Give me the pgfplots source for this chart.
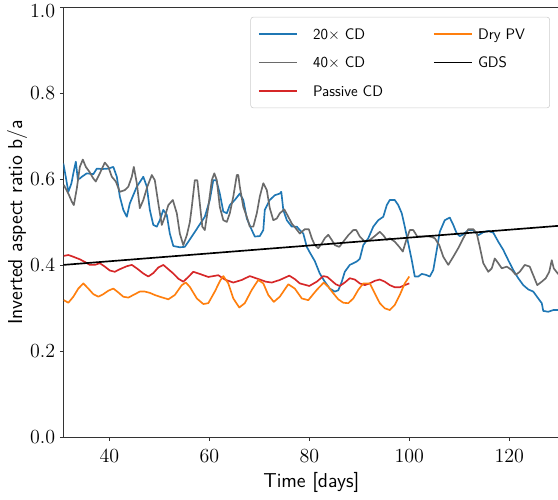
\documentclass[border=0pt]{standalone}
\usepackage{fontspec}
\usepackage{pgfplots}
\pgfplotsset{compat=1.18}
\definecolor{c20}{HTML}{1F77B4}
\definecolor{c40}{HTML}{6A6A6A}
\definecolor{cpas}{HTML}{D62728}
\definecolor{cdry}{HTML}{FF7F0E}
\begin{document}
\begin{tikzpicture}
\begin{axis}[
  at={(0,0)}, anchor=south west,
  scale only axis, width=357.1pt, height=309.6pt,
  xmin=30.8, xmax=130, ymin=0, ymax=1,
  xtick={40,60,80,100,120}, ytick={0,0.2,0.4,0.6,0.8},
  extra y ticks={1.0},
  extra y tick style={yticklabel style={yshift=-2.6pt}},
  yticklabel style={/pgf/number format/fixed,/pgf/number format/fixed zerofill,/pgf/number format/precision=1},
  tick align=outside, tick pos=left, major tick length=2.4pt,
  axis line style={black!80, line width=0.6pt},
  every tick/.style={black!80, line width=0.6pt},
  tick label style={font=\fontsize{14.4}{17}\selectfont},
  xticklabel style={yshift=-3pt},
  every axis x label/.style={at={(axis description cs:0.5,-0.117)}, anchor=base},
  every axis y label/.style={at={(axis description cs:-0.0833,0.5)}, rotate=90, anchor=base},
  label style={font=\sffamily\fontsize{14.5}{17}\selectfont},
  xlabel={Time [days]}, ylabel={Inverted aspect ratio b/a},
  legend columns=2,
  legend cell align=left,
  legend style={at={(1,1)}, anchor=north east, xshift=-6.7pt, yshift=-6.8pt,
    draw=black!20, rounded corners=2pt, fill=white,
    inner xsep=5.3pt, inner ysep=7.2pt, row sep=10.2pt, column sep=0pt,
    nodes={inner sep=0pt, text height=9pt, text depth=1.2pt},
    font=\sffamily\fontsize{11}{13.5}\selectfont},
  legend image code/.code={\draw[#1, line width=1.2pt] (0pt,0pt) -- (27.6pt,0pt);},
  every axis plot/.append style={line width=1.2pt, line join=round},
]
\addplot[c20, forget plot] coordinates {
(30.8,0.637) (31.3,0.605) (31.8,0.571) (32.4,0.590) (33.0,0.625) (33.3,0.641) (33.7,0.600) (34.1,0.602) (34.5,0.606) (35.5,0.614) (36.8,0.612) (37.5,0.625) (38.5,0.624) (39.8,0.625) (40.8,0.629) (41.5,0.606) (42.1,0.560) (42.8,0.529) (43.5,0.513) (44.1,0.544) (45.5,0.583) (46.8,0.606) (47.5,0.583) (48.1,0.529) (48.8,0.494) (49.5,0.490) (50.1,0.505) (50.8,0.529) (51.5,0.517) (52.1,0.474) (52.8,0.445) (54.1,0.442) (55.1,0.443) (56.5,0.467) (57.8,0.490) (59.1,0.513) (60.1,0.552) (60.8,0.598) (61.4,0.598) (62.1,0.567) (62.8,0.525) (63.5,0.521) (64.1,0.540) (65.1,0.552) (66.1,0.567) (66.8,0.552) (67.5,0.509) (68.5,0.482) (69.1,0.467) (70.1,0.468) (70.8,0.482) (71.1,0.529) (72.1,0.552) (73.1,0.563) (74.1,0.567) (74.4,0.571) (74.8,0.529) (75.5,0.505) (76.5,0.490) (77.5,0.490) (78.1,0.482) (78.8,0.474) (79.5,0.443) (80.1,0.430) (81.1,0.410) (82.1,0.381) (83.1,0.362) (84.1,0.346) (85.1,0.339) (85.8,0.342) (86.5,0.362) (87.1,0.385) (88.1,0.401) (89.5,0.409) (90.1,0.415) (90.8,0.447) (91.8,0.463) (92.8,0.490) (93.8,0.505) (94.8,0.513) (95.5,0.540) (96.1,0.552) (97.1,0.552) (97.8,0.540) (98.5,0.521) (99.1,0.490) (99.8,0.451) (100.5,0.412) (101.1,0.374) (101.8,0.374) (102.5,0.380) (103.3,0.378) (104.1,0.374) (104.8,0.389) (105.5,0.436) (106.1,0.478) (107.1,0.505) (108.1,0.511) (108.8,0.494) (109.5,0.474) (110.1,0.468) (110.8,0.472) (111.8,0.482) (112.8,0.482) (113.8,0.470) (114.8,0.477) (115.8,0.480) (116.8,0.476) (117.8,0.455) (118.8,0.436) (119.8,0.412) (120.8,0.389) (121.8,0.370) (122.8,0.354) (123.8,0.344) (124.8,0.339) (125.8,0.323) (126.5,0.312) (126.8,0.294) (127.8,0.292) (128.8,0.296) (130.0,0.296)
};
\addplot[c40, forget plot] coordinates {
(30.9,0.587) (31.8,0.567) (32.5,0.548) (32.9,0.540) (33.5,0.579) (34.1,0.629) (34.7,0.646) (35.3,0.629) (36.0,0.618) (36.8,0.602) (37.3,0.595) (38.1,0.614) (39.1,0.639) (39.8,0.629) (40.5,0.606) (41.3,0.595) (42.1,0.571) (43.1,0.575) (43.8,0.583) (44.5,0.606) (44.9,0.629) (45.5,0.591) (46.1,0.533) (46.8,0.552) (47.6,0.583) (48.5,0.610) (49.1,0.598) (49.8,0.544) (50.5,0.494) (51.1,0.513) (51.8,0.540) (52.7,0.552) (53.5,0.521) (54.1,0.474) (54.8,0.447) (55.5,0.470) (56.1,0.500) (56.5,0.536) (57.1,0.598) (57.6,0.598) (58.1,0.544) (58.6,0.490) (59.1,0.482) (59.8,0.536) (60.5,0.598) (61.0,0.614) (61.5,0.598) (62.1,0.536) (62.8,0.505) (63.5,0.501) (64.1,0.521) (64.8,0.560) (65.5,0.610) (65.8,0.610) (66.1,0.583) (66.8,0.536) (67.5,0.513) (68.1,0.490) (68.8,0.490) (69.5,0.521) (70.1,0.560) (70.8,0.591) (71.5,0.575) (72.1,0.533) (72.8,0.505) (73.5,0.509) (74.1,0.521) (75.0,0.530) (75.8,0.513) (76.5,0.497) (77.3,0.486) (78.1,0.474) (79.1,0.484) (79.9,0.484) (80.5,0.463) (81.1,0.447) (81.8,0.440) (82.5,0.451) (83.1,0.463) (83.8,0.471) (84.5,0.459) (85.1,0.447) (86.0,0.443) (86.8,0.455) (87.8,0.470) (88.8,0.482) (89.4,0.482) (90.1,0.467) (91.1,0.455) (92.1,0.459) (93.1,0.468) (94.1,0.478) (94.8,0.470) (95.5,0.459) (96.1,0.463) (97.1,0.455) (98.0,0.443) (98.7,0.432) (99.3,0.455) (100.1,0.482) (100.8,0.482) (101.6,0.467) (102.5,0.467) (103.5,0.468) (104.5,0.466) (105.1,0.463) (106.0,0.447) (106.8,0.420) (107.8,0.401) (108.8,0.420) (109.8,0.440) (110.8,0.463) (111.8,0.484) (112.8,0.484) (113.5,0.474) (114.1,0.443) (114.8,0.405) (115.8,0.385) (116.5,0.393) (117.1,0.416) (117.8,0.405) (118.5,0.393) (119.5,0.397) (120.5,0.389) (121.3,0.378) (122.1,0.385) (123.1,0.401) (124.1,0.397) (124.9,0.374) (125.6,0.354) (126.5,0.362) (127.3,0.370) (128.0,0.385) (128.5,0.412) (128.9,0.393) (129.7,0.381) (130.0,0.378)
};
\addplot[cpas, forget plot] coordinates {
(30.9,0.422) (31.8,0.424) (32.8,0.420) (34.1,0.414) (35.1,0.408) (36.1,0.401) (37.1,0.401) (38.1,0.405) (39.1,0.397) (40.1,0.388) (41.1,0.385) (42.1,0.391) (43.5,0.398) (44.5,0.401) (45.5,0.393) (46.8,0.381) (47.8,0.374) (48.8,0.382) (49.8,0.395) (50.8,0.401) (51.8,0.391) (52.8,0.381) (53.8,0.369) (54.8,0.362) (55.8,0.373) (56.8,0.385) (58.1,0.380) (59.8,0.373) (60.8,0.375) (61.8,0.377) (63.1,0.367) (64.8,0.360) (66.5,0.366) (68.1,0.375) (70.1,0.367) (71.3,0.362) (72.5,0.360) (74.1,0.366) (76.0,0.376) (77.1,0.368) (78.1,0.358) (80.0,0.352) (81.5,0.362) (82.8,0.375) (83.6,0.373) (84.5,0.364) (85.3,0.356) (86.1,0.352) (87.1,0.360) (88.1,0.370) (89.1,0.367) (90.1,0.358) (91.1,0.354) (92.1,0.358) (93.1,0.364) (94.1,0.367) (95.1,0.362) (96.1,0.354) (97.1,0.349) (98.1,0.349) (99.1,0.354) (100.0,0.358)
};
\addplot[cdry, forget plot] coordinates {
(30.9,0.319) (31.8,0.313) (32.8,0.327) (33.8,0.346) (34.8,0.358) (35.8,0.346) (36.8,0.333) (37.8,0.327) (38.8,0.333) (39.8,0.341) (40.8,0.346) (41.8,0.337) (42.8,0.327) (43.8,0.325) (44.8,0.331) (46.1,0.339) (47.1,0.339) (48.1,0.336) (49.1,0.331) (50.1,0.327) (51.8,0.321) (53.1,0.331) (54.5,0.354) (55.3,0.360) (56.1,0.350) (57.5,0.323) (58.8,0.310) (59.8,0.312) (61.1,0.339) (62.2,0.365) (62.8,0.375) (63.8,0.358) (64.8,0.323) (66.0,0.302) (67.1,0.312) (68.5,0.343) (69.8,0.366) (70.8,0.358) (71.8,0.331) (72.9,0.315) (74.1,0.327) (75.8,0.356) (77.1,0.346) (78.5,0.323) (79.8,0.319) (81.5,0.343) (82.9,0.360) (83.8,0.350) (84.8,0.335) (85.8,0.321) (86.8,0.313) (87.8,0.312) (88.8,0.323) (89.8,0.343) (90.8,0.358) (92.1,0.358) (93.1,0.335) (94.1,0.312) (95.1,0.300) (96.1,0.296) (97.1,0.308) (98.1,0.331) (99.1,0.358) (100.0,0.374)
};
\addplot[black, forget plot] coordinates {(30.8,0.401) (130.0,0.492)};
\addlegendimage{c20}
\addlegendentry{\hspace{10.8pt}\makebox[86.4pt][l]{20$\times$\,\,CD}}
\addlegendimage{cdry}
\addlegendentry{\hspace{3.6pt}\makebox[46.3pt][l]{Dry PV}}
\addlegendimage{c40}
\addlegendentry{\hspace{10.8pt}\makebox[86.4pt][l]{40$\times$\,\,CD}}
\addlegendimage{black}
\addlegendentry{\hspace{3.6pt}\makebox[46.3pt][l]{GDS}}
\addlegendimage{cpas}
\addlegendentry{\hspace{10.8pt}\makebox[86.4pt][l]{Passive CD}}
\end{axis}
\pgfresetboundingbox
\path[use as bounding box] (-45.6pt,-45.1pt) rectangle (356.2pt,314.9pt);
\end{tikzpicture}
\end{document}
